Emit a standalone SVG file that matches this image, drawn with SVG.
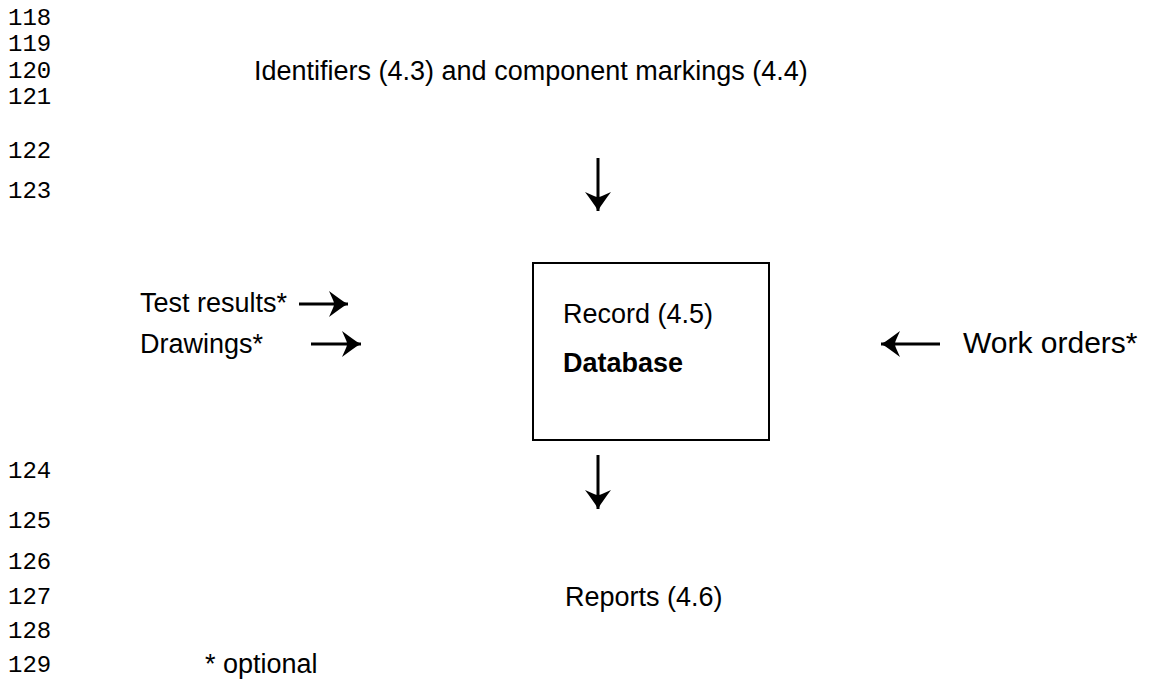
<svg xmlns="http://www.w3.org/2000/svg" width="1149" height="695" viewBox="0 0 1149 695">
<style>
.ln{font-family:"Liberation Mono","Courier New",monospace;font-size:24px;fill:#000}
.t{font-family:"Liberation Sans",Arial,sans-serif;font-size:27px;fill:#000}
.b{font-weight:bold}
.sh{stroke:#000;stroke-width:3;fill:none}
</style>
<defs>
<marker id="ah" markerUnits="userSpaceOnUse" viewBox="-22 -15 24 30" refX="0" refY="0" markerWidth="24" markerHeight="30" orient="auto">
<path d="M0,0 C-6,-3 -12,-8 -19,-13 L-15,-4 Q-13,0 -15,4 L-19,13 C-12,8 -6,3 0,0 Z" fill="#000"/>
</marker>
</defs>
<rect width="1149" height="695" fill="#fff"/>
<g id="line-numbers">
<text class="ln" x="8" y="25">118</text>
<text class="ln" x="8" y="51">119</text>
<text class="ln" x="8" y="78">120</text>
<text class="ln" x="8" y="104">121</text>
<text class="ln" x="8" y="158">122</text>
<text class="ln" x="8" y="198">123</text>
<text class="ln" x="8" y="478">124</text>
<text class="ln" x="8" y="528">125</text>
<text class="ln" x="8" y="569">126</text>
<text class="ln" x="8" y="604">127</text>
<text class="ln" x="8" y="638">128</text>
<text class="ln" x="8" y="672">129</text>
</g>
<g id="identifiers"><text class="t" x="254" y="80">Identifiers (4.3) and component markings (4.4)</text></g>
<g id="database">
<rect x="533" y="263" width="236" height="177" fill="none" stroke="#000" stroke-width="2"/>
<text class="t" x="563" y="323">Record (4.5)</text>
<text class="t b" x="563" y="372">Database</text>
</g>
<g id="test-results"><text class="t" x="140" y="312">Test results*</text></g>
<g id="drawings"><text class="t" x="140" y="353">Drawings*</text></g>
<g id="work-orders"><text class="t" x="963" y="353" style="font-size:30px">Work orders*</text></g>
<g id="reports"><text class="t" x="565" y="606">Reports (4.6)</text></g>
<g id="optional"><text class="t" x="205" y="673">* optional</text></g>
<g id="connectors">
<line class="sh" x1="299" y1="304" x2="348" y2="304" marker-end="url(#ah)"/>
<line class="sh" x1="311" y1="344" x2="361" y2="344" marker-end="url(#ah)"/>
<line class="sh" x1="940" y1="344" x2="881" y2="344" marker-end="url(#ah)"/>
<line class="sh" x1="598" y1="158" x2="598" y2="211" marker-end="url(#ah)"/>
<line class="sh" x1="598" y1="455" x2="598" y2="509" marker-end="url(#ah)"/>
</g>
</svg>
